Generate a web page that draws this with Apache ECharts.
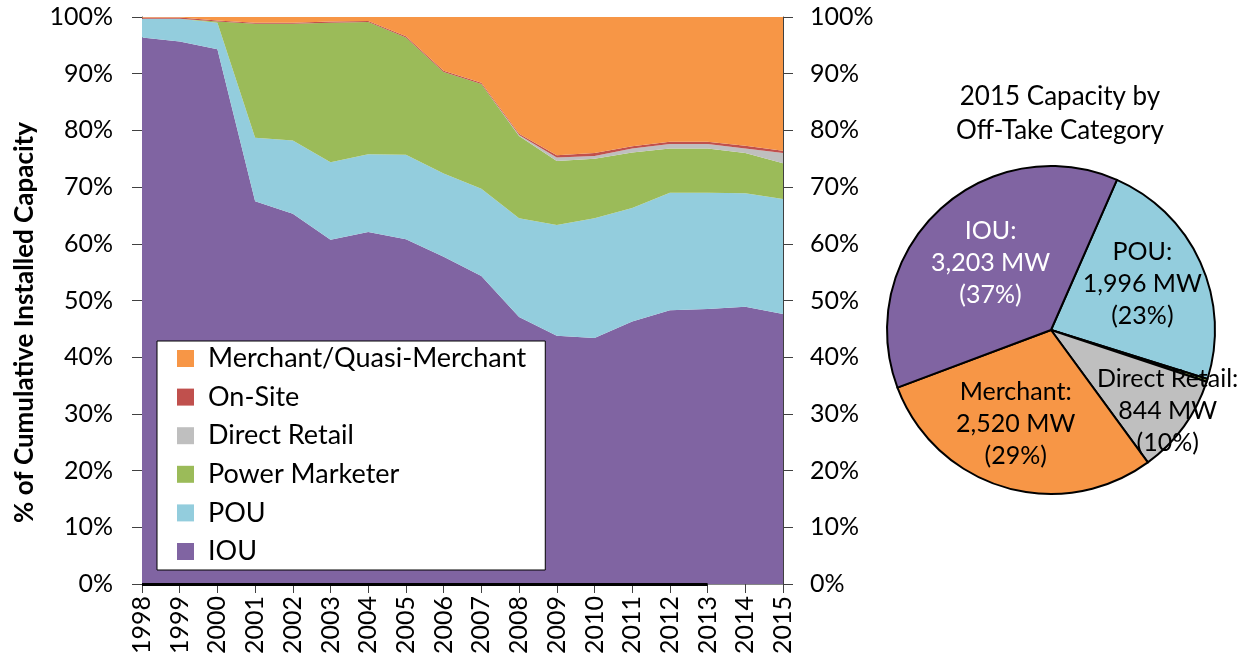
<!DOCTYPE html>
<html><head><meta charset="utf-8">
<script src="https://cdn.jsdelivr.net/npm/echarts@6/dist/echarts.min.js"></script>
<style>html,body{margin:0;padding:0;background:#fff}#c{width:1245px;height:659px}</style>
</head><body><div id="c"></div>
<script>
const years = ['1998','1999','2000','2001','2002','2003','2004','2005','2006','2007','2008','2009','2010','2011','2012','2013','2014','2015'];
const iou      = [96.4, 95.7, 94.3, 67.5, 65.3, 60.7, 62.1, 60.8, 57.7, 54.3, 47.1, 43.8, 43.4, 46.3, 48.3, 48.5, 48.9, 47.6];
const pou      = [3.3, 4.0, 4.7, 11.2, 12.9, 13.7, 13.7, 14.9, 14.7, 15.4, 17.4, 19.5, 21.1, 20.0, 20.7, 20.5, 20.0, 20.3];
const marketer = [0.0, 0.0, 0.2, 20.1, 20.6, 24.6, 23.3, 20.7, 17.9, 18.5, 14.5, 11.3, 10.5, 9.8, 7.8, 7.8, 7.1, 6.3];
const retail   = [0, 0, 0, 0, 0, 0, 0, 0, 0, 0, 0.2, 0.6, 0.5, 0.7, 0.8, 0.8, 0.8, 1.8];
const onsite   = [0.2, 0.2, 0.2, 0.2, 0.2, 0.2, 0.2, 0.2, 0.2, 0.2, 0.2, 0.4, 0.5, 0.4, 0.4, 0.4, 0.5, 0.4];
const merchant = [0.1, 0.1, 0.6, 1.0, 1.0, 0.8, 0.7, 3.4, 9.5, 11.6, 20.6, 24.4, 24.0, 22.8, 22.0, 22.0, 22.7, 23.6];

const seriesNames = ['IOU','POU','Power Marketer','Direct Retail','On-Site','Merchant/Quasi-Merchant'];
const seriesData = [iou, pou, marketer, retail, onsite, merchant];
const seriesColors = ['#8064A2','#93CDDD','#9BBB59','#BFBFBF','#C0504D','#F79646'];

const pieNames  = ['POU','Power Marketer','Direct Retail','Merchant','IOU'];
const pieValues = [1996, 25, 844, 2520, 3203];
const pieColors = ['#93CDDD','#9BBB59','#BFBFBF','#F79646','#8064A2'];
const pieTextColors = ['#000','#000','#000','#000','#fff'];
const pieShowLabel = [true, false, true, true, true];
const pieLabelShift = [[14,-11],[0,0],[48,31],[-11,12],[-2,-5]];
const pieTitle = '2015 Capacity by\nOff-Take Category';
const yAxisTitle = '% of Cumulative Installed Capacity';

const FONT = 'Lato';
const chart = echarts.init(document.getElementById('c'));

const series = seriesNames.map((n, i) => ({
  name: n, type: 'line', stack: 'total', data: seriesData[i],
  symbol: 'none', showSymbol: false,
  lineStyle: { width: 0 }, areaStyle: { color: seriesColors[i], opacity: 1 },
  itemStyle: { color: seriesColors[i] },
  emphasis: { disabled: true }, z: 2
}));
series[0].markLine = {
  silent: true, symbol: 'none', animation: false,
  lineStyle: { color: '#000', width: 3, type: 'solid' },
  label: { show: false },
  data: [[{ coord: [years[0], 0] }, { coord: [years[15], 0] }]]
};

series.push({
  type: 'pie', center: [1051, 330], radius: 164, startAngle: 66.3, clockwise: true,
  percentPrecision: 2, avoidLabelOverlap: false,
  itemStyle: { borderColor: '#000', borderWidth: 2 },
  labelLine: { show: false },
  emphasis: { disabled: true },
  label: {
    position: 'inside', fontFamily: FONT, fontSize: 25, lineHeight: 32,
    formatter: p => p.name + ':\n' + p.value.toLocaleString('en-US') + ' MW\n(' + Math.round(p.percent) + '%)'
  },
  labelLayout: p => ({ dx: pieLabelShift[p.dataIndex][0], dy: pieLabelShift[p.dataIndex][1] }),
  data: pieNames.map((n, i) => ({
    name: n, value: pieValues[i],
    itemStyle: { color: pieColors[i] },
    label: { show: pieShowLabel[i], color: pieTextColors[i] }
  }))
});

const yAxisCommon = {
  type: 'value', min: 0, max: 100, interval: 10,
  splitLine: { show: false },
  axisLine: { show: true, lineStyle: { color: '#404040', width: 1 } },
  axisTick: { show: true, inside: false, length: 10, lineStyle: { color: '#404040' } },
  axisLabel: { formatter: '{value}%', fontFamily: FONT, fontSize: 25, color: '#000' }
};

chart.setOption({
  animation: false,
  textStyle: { fontFamily: FONT },
  title: {
    text: pieTitle, left: 1055, top: 75, textAlign: 'center',
    textStyle: { fontFamily: FONT, fontSize: 26, fontWeight: 'normal', color: '#000', lineHeight: 34 }
  },
  grid: { left: 142, right: 462, top: 17, bottom: 75 },
  legend: {
    data: seriesNames.slice().reverse(),
    orient: 'vertical', left: 157, top: 341,
    padding: [4, 19, 5, 20],
    itemWidth: 17, itemHeight: 17, itemGap: 11.6,
    icon: 'rect',
    backgroundColor: '#fff', borderColor: '#000', borderWidth: 1, borderRadius: 0,
    textStyle: { fontFamily: FONT, fontSize: 27, lineHeight: 24, color: '#000', padding: [0, 0, 0, 9] },
    selectedMode: false
  },
  xAxis: {
    type: 'category', data: years, boundaryGap: false,
    axisLine: { show: true, lineStyle: { color: '#868686', width: 1 } },
    axisTick: { show: true, length: 9, lineStyle: { color: '#404040' } },
    axisLabel: { rotate: 90, margin: 12, fontFamily: FONT, fontSize: 25, color: '#000', interval: 0 }
  },
  yAxis: [
    Object.assign({}, yAxisCommon, {
      position: 'left',
      name: yAxisTitle, nameLocation: 'middle', nameGap: 104, nameRotate: 90,
      nameTextStyle: { fontFamily: FONT, fontSize: 26, fontWeight: 'bold', color: '#000', padding: [0, 44, 0, 0] },
      axisLabel: Object.assign({}, yAxisCommon.axisLabel, { margin: 29 })
    }),
    Object.assign({}, yAxisCommon, {
      position: 'right',
      axisLabel: Object.assign({}, yAxisCommon.axisLabel, { margin: 27 })
    })
  ],
  series: series
});
</script></body></html>
